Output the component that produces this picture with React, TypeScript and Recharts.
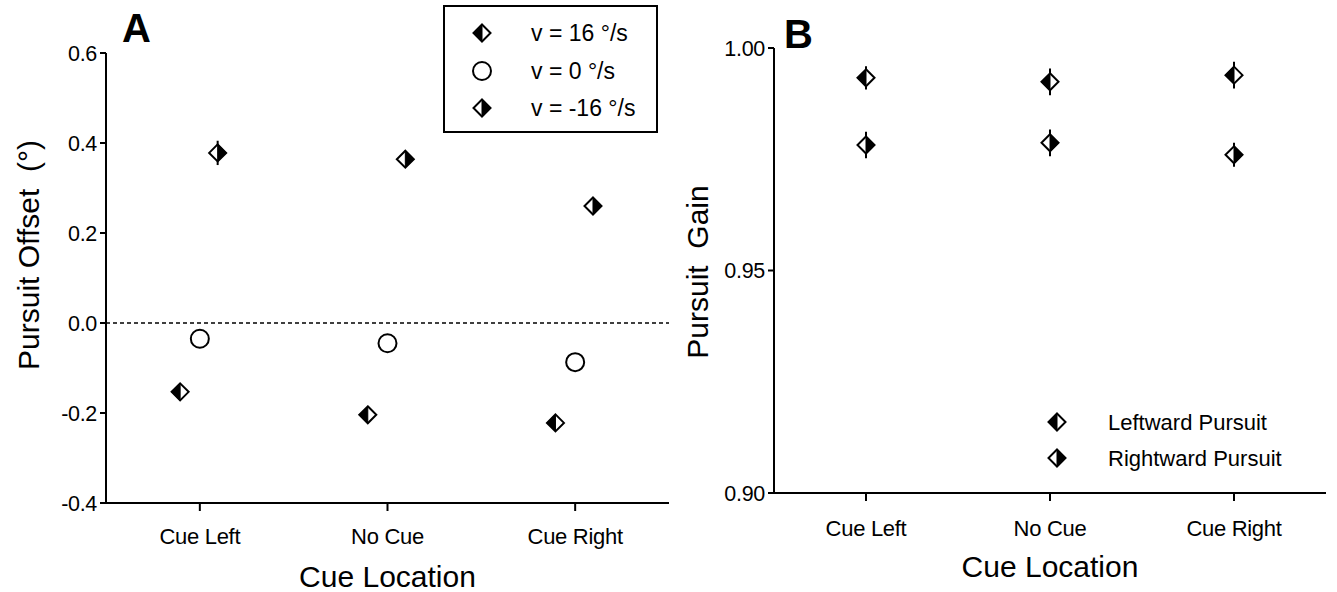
import React from 'react'
import {
  ScatterChart,
  Scatter,
  XAxis,
  YAxis,
  ReferenceLine,
  ErrorBar,
  Legend,
  Label
} from 'recharts'

const FONT = "'Liberation Sans', Arial, Helvetica, sans-serif"

const categories = ['Cue Left', 'No Cue', 'Cue Right']
const categoryPositions = [1, 2, 3]

// panel A - pursuit offset (deg), one array per target velocity
const offsetV16 = [-0.153, -0.204, -0.222]
const offsetV16Err = [0.01, 0.01, 0.01]
const offsetV0 = [-0.035, -0.045, -0.087]
const offsetV0Err = [0.008, 0.008, 0.008]
const offsetVm16 = [0.378, 0.364, 0.26]
const offsetVm16Err = [0.027, 0.015, 0.014]
const offsetTicks = [-0.4, -0.2, 0, 0.2, 0.4, 0.6]

// small horizontal shift so the three series don't overlap
const shiftV16 = -0.105
const shiftV0 = 0
const shiftVm16 = 0.095

// panel B - pursuit gain
const gainLeftward = [0.9933, 0.9924, 0.9939]
const gainLeftwardErr = [0.0026, 0.003, 0.003]
const gainRightward = [0.9782, 0.9787, 0.976]
const gainRightwardErr = [0.003, 0.003, 0.0027]
const gainTicks = [0.9, 0.95, 1.0]

const legendA = [
  { label: 'v = 16 °/s', kind: 'left' },
  { label: 'v = 0 °/s', kind: 'circle' },
  { label: 'v = -16 °/s', kind: 'right' }
]
const legendB = [
  { label: 'Leftward Pursuit', kind: 'left' },
  { label: 'Rightward Pursuit', kind: 'right' }
]

const toRows = (vals: number[], errs: number[], shift: number) =>
  vals.map((y, i) => ({ x: categoryPositions[i] + shift, y, err: errs[i] }))

const HalfDiamond = ({ cx, cy, filled }: { cx: number; cy: number; filled: string }) => {
  const r = 8.5
  const top = `${cx},${cy - r}`
  const bottom = `${cx},${cy + r}`
  const left = `${cx - r},${cy}`
  const right = `${cx + r},${cy}`
  const half = filled === 'left' ? `${top} ${left} ${bottom}` : `${top} ${right} ${bottom}`
  return (
    <g>
      <polygon points={`${top} ${right} ${bottom} ${left}`} fill="#fff" stroke="#000" strokeWidth={2} />
      <polygon points={half} fill="#000" stroke="#000" strokeWidth={1} />
    </g>
  )
}

const Marker = ({ cx, cy, kind }: { cx: number; cy: number; kind: string }) =>
  kind === 'circle' ? (
    <circle cx={cx} cy={cy} r={9} fill="#fff" stroke="#000" strokeWidth={2} />
  ) : (
    <HalfDiamond cx={cx} cy={cy} filled={kind} />
  )

const tickStyle = { fill: '#000', fontSize: 22, fontFamily: FONT, letterSpacing: -0.3 }
const axisStroke = { stroke: '#000', strokeWidth: 2 }

const catLabel = (v: number) => categories[categoryPositions.indexOf(v)] ?? ''

const xTitle = ({ viewBox }: any) => (
  <text
    x={viewBox.x + viewBox.width / 2}
    y={viewBox.y + 84}
    textAnchor="middle"
    fontSize={30}
    fontFamily={FONT}
    fill="#000"
  >
    Cue Location
  </text>
)

const yTitle = (text: string, x: number, y: number) => () => (
  <text
    x={x}
    y={y}
    transform={`rotate(-90 ${x} ${y})`}
    textAnchor="middle"
    dominantBaseline="central"
    fontSize={30}
    fontFamily={FONT}
    fill="#000"
    style={{ whiteSpace: 'pre' }}
  >
    {text}
  </text>
)

const LegendPanel = ({
  items, width, height, boxed, markerX, textX, rowY, fontSize
}: any) => (
  <svg width={width} height={height} style={{ display: 'block' }}>
    {boxed && (
      <rect x={1} y={1} width={width - 2} height={height - 2} fill="#fff" stroke="#000" strokeWidth={2} />
    )}
    {items.map((it: any, i: number) => (
      <g key={it.label}>
        <Marker cx={markerX} cy={rowY[i]} kind={it.kind} />
        <text x={textX} y={rowY[i] + 8} fontSize={fontSize} fontFamily={FONT} fill="#000">
          {it.label}
        </text>
      </g>
    ))}
  </svg>
)

function PanelA() {
  return (
    <ScatterChart width={670} height={592} margin={{ top: 53, right: 1, bottom: 0, left: 0 }}>
      <XAxis
        type="number"
        dataKey="x"
        domain={[0.5, 3.5]}
        ticks={categoryPositions}
        tickFormatter={catLabel}
        interval={0}
        height={89}
        axisLine={axisStroke}
        tickLine={axisStroke}
        tickSize={8}
        tickMargin={17}
        tick={tickStyle}
      >
        <Label content={xTitle} />
      </XAxis>
      <YAxis
        type="number"
        dataKey="y"
        domain={[-0.4, 0.6]}
        ticks={offsetTicks}
        tickFormatter={(v: number) => v.toFixed(1)}
        interval={0}
        width={106}
        axisLine={axisStroke}
        tickLine={axisStroke}
        tickSize={6}
        tickMargin={3}
        tick={{ ...tickStyle, fontSize: 21.5 }}
      >
        <Label content={yTitle('Pursuit Offset  (°)', 28, 255)} />
      </YAxis>
      <ReferenceLine y={0} stroke="#000" strokeWidth={1.5} strokeDasharray="4 3" />
      <Scatter
        name="v = 16 °/s"
        data={toRows(offsetV16, offsetV16Err, shiftV16)}
        isAnimationActive={false}
        shape={(p: any) => <Marker cx={p.cx} cy={p.cy} kind="left" />}
      >
        <ErrorBar dataKey="err" direction="y" width={0} stroke="#000" strokeWidth={2} />
      </Scatter>
      <Scatter
        name="v = 0 °/s"
        data={toRows(offsetV0, offsetV0Err, shiftV0)}
        isAnimationActive={false}
        shape={(p: any) => <Marker cx={p.cx} cy={p.cy} kind="circle" />}
      >
        <ErrorBar dataKey="err" direction="y" width={0} stroke="#000" strokeWidth={2} />
      </Scatter>
      <Scatter
        name="v = -16 °/s"
        data={toRows(offsetVm16, offsetVm16Err, shiftVm16)}
        isAnimationActive={false}
        shape={(p: any) => <Marker cx={p.cx} cy={p.cy} kind="right" />}
      >
        <ErrorBar dataKey="err" direction="y" width={0} stroke="#000" strokeWidth={2} />
      </Scatter>
      <Legend
        layout="vertical"
        align="center"
        verticalAlign="middle"
        wrapperStyle={{ left: 443, top: 5, width: 215, height: 128 }}
        content={() => (
          <LegendPanel
            items={legendA}
            width={215}
            height={128}
            boxed
            markerX={39}
            rowY={[28, 66, 103]}
            textX={88}
            fontSize={23}
          />
        )}
      />
    </ScatterChart>
  )
}

function PanelB() {
  return (
    <ScatterChart width={667} height={592} margin={{ top: 48, right: 11, bottom: 0, left: 0 }}>
      <XAxis
        type="number"
        dataKey="x"
        domain={[0.5, 3.5]}
        ticks={categoryPositions}
        tickFormatter={catLabel}
        interval={0}
        height={99}
        axisLine={axisStroke}
        tickLine={axisStroke}
        tickSize={8}
        tickMargin={19}
        tick={tickStyle}
      >
        <Label content={xTitle} />
      </XAxis>
      <YAxis
        type="number"
        dataKey="y"
        domain={[0.9, 1.0]}
        ticks={gainTicks}
        tickFormatter={(v: number) => v.toFixed(2)}
        interval={0}
        width={104}
        axisLine={axisStroke}
        tickLine={axisStroke}
        tickSize={6}
        tickMargin={3}
        tick={{ ...tickStyle, fontSize: 21.5 }}
      >
        <Label content={yTitle('Pursuit  Gain', 27, 272)} />
      </YAxis>
      <Scatter
        name="Leftward Pursuit"
        data={toRows(gainLeftward, gainLeftwardErr, 0)}
        isAnimationActive={false}
        shape={(p: any) => <Marker cx={p.cx} cy={p.cy} kind="left" />}
      >
        <ErrorBar dataKey="err" direction="y" width={0} stroke="#000" strokeWidth={2} />
      </Scatter>
      <Scatter
        name="Rightward Pursuit"
        data={toRows(gainRightward, gainRightwardErr, 0)}
        isAnimationActive={false}
        shape={(p: any) => <Marker cx={p.cx} cy={p.cy} kind="right" />}
      >
        <ErrorBar dataKey="err" direction="y" width={0} stroke="#000" strokeWidth={2} />
      </Scatter>
      <Legend
        layout="vertical"
        align="center"
        verticalAlign="middle"
        wrapperStyle={{ left: 370, top: 400, width: 280, height: 80 }}
        content={() => (
          <LegendPanel
            items={legendB}
            width={280}
            height={80}
            boxed={false}
            markerX={17}
            rowY={[22, 58]}
            textX={68}
            fontSize={22}
          />
        )}
      />
    </ScatterChart>
  )
}

const panelLetter = {
  position: 'absolute' as const,
  fontFamily: FONT,
  fontWeight: 'bold' as const,
  fontSize: 40,
  lineHeight: 1,
  color: '#000'
}

export default function App() {
  return (
    <div style={{ position: 'absolute', left: 0, top: 0, width: 1337, height: 592, background: '#fff', overflow: 'hidden' }}>
      <div style={{ position: 'absolute', left: 0, top: 0 }}>
        <PanelA />
      </div>
      <div style={{ position: 'absolute', left: 670, top: 0 }}>
        <PanelB />
      </div>
      <div style={{ ...panelLetter, left: 122, top: 8 }}>A</div>
      <div style={{ ...panelLetter, left: 784, top: 14 }}>B</div>
    </div>
  )
}
